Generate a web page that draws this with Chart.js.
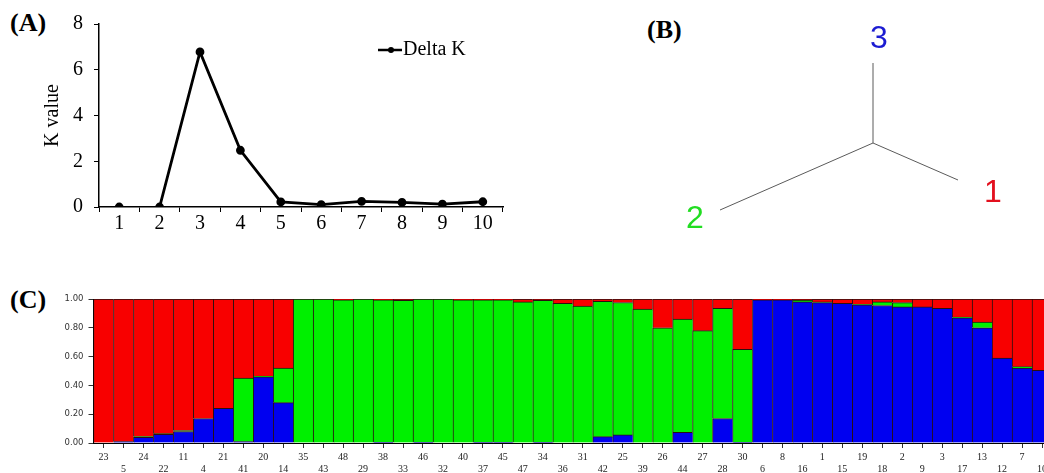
<!DOCTYPE html>
<html>
<head>
<meta charset="utf-8">
<script src="https://cdn.jsdelivr.net/npm/chart.js@4.4.1/dist/chart.umd.min.js"></script>
<style>
  html, body { margin: 0; padding: 0; background: #fff; width: 1044px; height: 473px; overflow: hidden; }
  .panel { position: absolute; }
  .tag { position: absolute; font: bold 26px "Liberation Serif", serif; color: #000; line-height: 26px; }
</style>
</head>
<body>
<div class="tag" style="left:10px; top:10px;">(A)</div>
<div class="tag" style="left:647px; top:17px;">(B)</div>
<div class="tag" style="left:10px; top:287px;">(C)</div>

<canvas id="chartA" class="panel" width="580" height="240" style="left:0; top:0;"></canvas>
<canvas id="chartB" class="panel" width="404" height="250" style="left:640px; top:0;"></canvas>
<canvas id="chartC" class="panel" width="1060" height="188" style="left:0; top:285px;"></canvas>

<script>
// --- Dane: panel A (Delta K) ---
const kValues = ['1', '2', '3', '4', '5', '6', '7', '8', '9', '10'];
const deltaK = [0, 0, 6.78, 2.48, 0.22, 0.1, 0.25, 0.2, 0.13, 0.23];

// --- Dane: panel B (drzewo klastrów) ---
const clusterNames = ['1', '2', '3'];
const clusterColors = ['#e3101e', '#22dd22', '#1c1cd2'];
const branchEndX = [85, -153, 0];
const branchEndY = [-37, -67, 80];
const labelX = [120, -178, 6];
const labelY = [-50, -76, 104];

// --- Dane: panel C (przynależność do klastrów) ---
const sampleIds = [23, 5, 24, 22, 11, 4, 21, 41, 20, 14, 35, 43, 48, 29, 38, 33, 46, 32, 40, 37, 45, 47, 34, 36,
                   31, 42, 25, 39, 26, 44, 27, 28, 30, 6, 8, 16, 1, 15, 19, 18, 2, 9, 3, 17, 13, 12, 7, 10];
const blueShare = [0, 0.01, 0.04, 0.06, 0.08, 0.17, 0.24, 0.01, 0.46, 0.28, 0, 0, 0, 0, 0.005, 0, 0.005, 0, 0, 0.005, 0.005, 0, 0.005, 0,
                   0, 0.044, 0.056, 0, 0, 0.074, 0, 0.17, 0.005, 0.995, 0.995, 0.98, 0.975, 0.97, 0.96, 0.955, 0.945, 0.945, 0.935, 0.87, 0.80, 0.59, 0.52, 0.505];
const greenShare = [0, 0, 0.005, 0.005, 0.007, 0, 0, 0.44, 0.005, 0.24, 1, 1, 0.995, 1, 0.99, 0.99, 0.995, 1, 0.995, 0.99, 0.99, 0.98, 0.985, 0.97,
                    0.95, 0.94, 0.92, 0.93, 0.80, 0.786, 0.78, 0.765, 0.645, 0, 0, 0.01, 0.005, 0, 0.003, 0.025, 0.03, 0, 0, 0.005, 0.04, 0, 0.01, 0];
const redShare = [1, 0.99, 0.955, 0.935, 0.913, 0.83, 0.76, 0.55, 0.535, 0.48, 0, 0, 0.005, 0, 0.005, 0.01, 0, 0, 0.005, 0.005, 0.005, 0.02, 0.01, 0.03,
                  0.05, 0.016, 0.024, 0.07, 0.20, 0.14, 0.22, 0.065, 0.35, 0.005, 0.005, 0.01, 0.02, 0.03, 0.037, 0.02, 0.025, 0.055, 0.065, 0.125, 0.16, 0.41, 0.47, 0.495];

const serif = 'Liberation Serif';

// Legenda wewnątrz wykresu A
const legendA = {
    id: 'legendA',
    afterDraw(chart) {
        const ctx = chart.ctx;
        ctx.save();
        ctx.strokeStyle = '#000';
        ctx.lineWidth = 2.5;
        ctx.beginPath();
        ctx.moveTo(378, 50);
        ctx.lineTo(402, 50);
        ctx.stroke();
        ctx.fillStyle = '#000';
        ctx.beginPath();
        ctx.arc(391, 50, 3, 0, Math.PI * 2);
        ctx.fill();
        ctx.font = '20px "' + serif + '"';
        ctx.textBaseline = 'middle';
        ctx.fillText(chart.data.datasets[0].label, 403, 50);
        ctx.restore();
    }
};

new Chart(document.getElementById('chartA'), {
    type: 'line',
    data: {
        labels: kValues,
        datasets: [{
            label: 'Delta K',
            data: deltaK,
            borderColor: '#000',
            backgroundColor: '#000',
            borderWidth: 2.8,
            pointRadius: 3,
            pointHoverRadius: 3,
            tension: 0,
            segment: { borderColor: c => c.p0DataIndex === 0 ? 'rgba(0,0,0,0)' : '#000' } // K=1 bez linii
        }]
    },
    options: {
        responsive: false,
        animation: false,
        layout: { padding: { left: 0, right: 77, top: 24, bottom: 0 } },
        plugins: { legend: { display: false }, tooltip: { enabled: false } },
        scales: {
            x: {
                offset: true,
                grid: { display: true, offset: true, drawOnChartArea: false, tickLength: 5, color: '#000' },
                border: { color: '#000', width: 1.5 },
                ticks: { color: '#000', font: { family: serif, size: 20 }, padding: 0 },
                afterFit: s => { s.height = 33; }
            },
            y: {
                min: 0,
                max: 8,
                ticks: { stepSize: 2, color: '#000', font: { family: serif, size: 20 }, padding: 11 },
                grid: { drawOnChartArea: false, tickLength: 5, color: '#000' },
                border: { color: '#000', width: 1.5 },
                title: { display: true, text: 'K value', color: '#000', font: { family: serif, size: 20 }, padding: { top: 41, bottom: 0 } },
                afterFit: s => { s.width = 99; }
            }
        }
    },
    plugins: [legendA]
});

// Etykiety klastrów w panelu B
const clusterLabels = {
    id: 'clusterLabels',
    afterDatasetsDraw(chart) {
        const ctx = chart.ctx;
        const { x, y } = chart.scales;
        ctx.save();
        ctx.font = '32px "Liberation Sans"';
        ctx.textAlign = 'center';
        ctx.textBaseline = 'middle';
        clusterNames.forEach((name, i) => {
            ctx.fillStyle = clusterColors[i];
            ctx.fillText(name, x.getPixelForValue(labelX[i]), y.getPixelForValue(labelY[i]));
        });
        ctx.restore();
    }
};

new Chart(document.getElementById('chartB'), {
    type: 'scatter',
    data: {
        datasets: clusterNames.map((name, i) => ({
            label: name,
            data: [{ x: 0, y: 0 }, { x: branchEndX[i], y: branchEndY[i] }],
            showLine: true,
            borderColor: '#5a5a5a',
            borderWidth: 1,
            pointRadius: 0
        }))
    },
    options: {
        responsive: false,
        animation: false,
        layout: { padding: 0 },
        plugins: { legend: { display: false }, tooltip: { enabled: false } },
        scales: {
            x: { display: false, min: -233, max: 171 },
            y: { display: false, min: -107, max: 143 }
        }
    },
    plugins: [clusterLabels]
});

// Panel C - wykres słupkowy skumulowany
const sampleLabels = sampleIds.map((id, i) => i % 2 === 0 ? String(id) : ['', String(id)]);

new Chart(document.getElementById('chartC'), {
    type: 'bar',
    data: {
        labels: sampleLabels,
        datasets: [
            { label: 'Cluster 3', data: blueShare, backgroundColor: '#0000f0' },
            { label: 'Cluster 2', data: greenShare, backgroundColor: '#00f000' },
            { label: 'Cluster 1', data: redShare, backgroundColor: '#f80000' }
        ]
    },
    options: {
        responsive: false,
        animation: false,
        datasets: {
            bar: {
                barPercentage: 1,
                categoryPercentage: 1,
                borderWidth: { top: 1, left: 1, right: 0, bottom: 0 },
                borderColor: '#2a1010',
                borderSkipped: false
            }
        },
        layout: { padding: { left: 0, right: 8, top: 14, bottom: 0 } },
        plugins: { legend: { display: false }, tooltip: { enabled: false } },
        scales: {
            x: {
                stacked: true,
                grid: { offset: false, drawOnChartArea: false, tickLength: 5, color: '#333' },
                border: { color: '#000' },
                ticks: { autoSkip: false, maxRotation: 0, color: '#222', font: { family: serif, size: 10 }, padding: 3 },
                afterFit: s => { s.height = 30; }
            },
            y: {
                stacked: true,
                min: 0,
                max: 1,
                ticks: { stepSize: 0.2, callback: v => v.toFixed(2), color: '#333', font: { family: 'DejaVu Sans', size: 8.5 }, padding: 5 },
                grid: { drawOnChartArea: false, tickLength: 5, color: '#333' },
                border: { color: '#000' },
                afterFit: s => { s.width = 93.5; }
            }
        }
    }
});
</script>
</body>
</html>
